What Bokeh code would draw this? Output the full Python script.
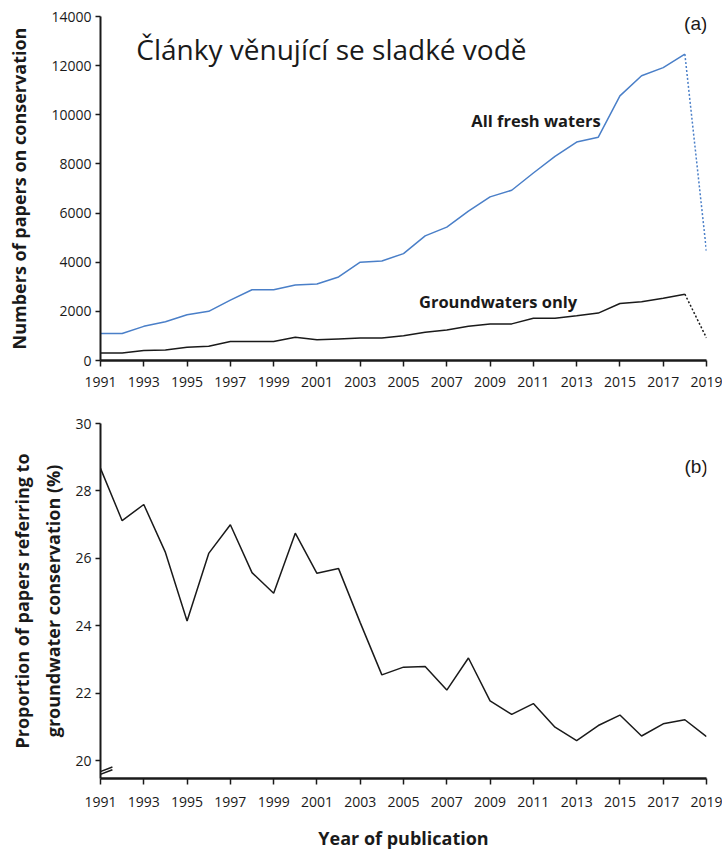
from bokeh.plotting import figure
from bokeh.models import Range1d, FixedTicker, LinearAxis, Label
from bokeh.layouts import column
from bokeh.embed import file_html
from bokeh.resources import INLINE

# ---------------- data ----------------
years = list(range(1991, 2020))
fresh = [1100, 1100, 1390, 1580, 1860, 2000, 2460, 2880, 2880, 3070,
         3110, 3400, 4000, 4050, 4350, 5070, 5430, 6080, 6660, 6930,
         7630, 8310, 8890, 9090, 10770, 11590, 11920, 12470, 4430]
ground = [310, 310, 405, 430, 540, 580, 770, 770, 770, 945,
          840, 880, 920, 920, 1010, 1150, 1240, 1390, 1490, 1490,
          1720, 1720, 1820, 1930, 2320, 2390, 2530, 2700, 920]
proportion = [28.67, 27.12, 27.6, 26.18, 24.15, 26.15, 27.0, 25.58, 24.97, 26.75,
              25.56, 25.7, 24.1, 22.55, 22.78, 22.8, 22.1, 23.05, 21.78, 21.38,
              21.7, 21.0, 20.6, 21.05, 21.36, 20.74, 21.1, 21.22, 20.72]
x_ticks = list(range(1991, 2020, 2))
y_ticks_a = [0, 2000, 4000, 6000, 8000, 10000, 12000, 14000]
y_ticks_b = [20, 22, 24, 26, 28, 30]

title_text = "Články věnující se sladké vodě"
label_fresh = "All fresh waters"
label_ground = "Groundwaters only"

BLUE = "#4a7fc8"
INK = "#1a1a1a"
FONT = "Open Sans"


def style(p):
    p.outline_line_color = None
    p.xgrid.visible = False
    p.ygrid.visible = False
    p.background_fill_color = "white"
    p.border_fill_color = "white"
    for ax in p.xaxis + p.yaxis:
        ax.axis_line_color = INK
        ax.axis_line_width = 2
        ax.major_tick_line_color = INK
        ax.major_tick_line_width = 1.5
        ax.minor_tick_line_color = None
        ax.major_tick_in = 0
        ax.major_label_text_font = FONT
        ax.major_label_text_font_size = "14px"
        ax.major_label_text_color = INK
        ax.axis_label_text_font = FONT
        ax.axis_label_text_font_size = "18px"
        ax.axis_label_text_font_style = "bold"
        ax.axis_label_text_color = INK
    p.xaxis.ticker = FixedTicker(ticks=x_ticks)
    p.xaxis.major_tick_out = 6
    p.xaxis.axis_line_width = 2.5
    p.yaxis.major_tick_out = 5


# ---------------- panel (a) ----------------
p1 = figure(width=722, height=400, x_range=Range1d(1991, 2019), y_range=Range1d(0, 14000),
            output_backend="svg", toolbar_location=None,
            min_border_left=100, min_border_right=16, min_border_top=16, min_border_bottom=40)
style(p1)
p1.yaxis.ticker = FixedTicker(ticks=y_ticks_a)
p1.yaxis.axis_label = "Numbers of papers on conservation"
p1.yaxis.axis_label_standoff = 17
p1.yaxis.major_label_standoff = 4
p1.xaxis.major_label_standoff = 10

p1.line(years[:-1], fresh[:-1], line_color=BLUE, line_width=1.5)
p1.line(years[-2:], fresh[-2:], line_color=BLUE, line_width=1.5, line_dash="2 2")
p1.line(years[:-1], ground[:-1], line_color=INK, line_width=1.5)
p1.line(years[-2:], ground[-2:], line_color=INK, line_width=1.5, line_dash="2 2")

p1.add_layout(Label(x=2001.67, y=12657, text=title_text, text_font=FONT,
                    text_font_size="28px", text_color=INK, text_align="center",
                    text_baseline="alphabetic"))
p1.add_layout(Label(x=2018.5, y=13703, text="(a)", text_font="Liberation Sans",
                    text_font_size="19px", text_color=INK, text_align="center",
                    text_baseline="middle"))
p1.add_layout(Label(x=2011.12, y=9767, text=label_fresh, text_font=FONT,
                    text_font_size="16.5px", text_font_style="bold", text_color=INK,
                    text_align="center", text_baseline="middle"))
p1.add_layout(Label(x=2009.37, y=2401, text=label_ground, text_font=FONT,
                    text_font_size="16.5px", text_font_style="bold", text_color=INK,
                    text_align="center", text_baseline="middle"))

# ---------------- panel (b) ----------------
p2 = figure(width=722, height=452, x_range=Range1d(1991, 2019), y_range=Range1d(19.48, 30),
            output_backend="svg", toolbar_location=None,
            min_border_left=100, min_border_right=16, min_border_top=23, min_border_bottom=74)
style(p2)
p2.yaxis.ticker = FixedTicker(ticks=y_ticks_b)
p2.yaxis.axis_label = "groundwater conservation (%)"
p2.yaxis.axis_label_standoff = 7
p2.yaxis.major_label_standoff = 4
p2.xaxis.axis_label = "Year of publication"
p2.xaxis.major_label_standoff = 12
p2.xaxis.axis_label_standoff = 16

extra = LinearAxis(ticker=FixedTicker(ticks=[]), axis_label="Proportion of papers referring to",
                   axis_line_color=None, major_tick_line_color=None, minor_tick_line_color=None,
                   major_tick_out=0, major_tick_in=0, major_label_standoff=0,
                   major_label_text_font_size="0px", axis_label_standoff=5,
                   axis_label_text_font=FONT, axis_label_text_font_size="18px",
                   axis_label_text_font_style="bold", axis_label_text_color=INK)
p2.add_layout(extra, "left")

p2.line(years, proportion, line_color=INK, line_width=1.5)

# axis break mark
brk_x0 = [1990.77, 1990.77]
brk_x1 = [1991.55, 1991.55]
brk_y0 = [19.63, 19.55]
brk_y1 = [19.82, 19.74]
p2.segment(x0=brk_x0, y0=brk_y0, x1=brk_x1, y1=brk_y1, line_color=INK, line_width=1.5)

p2.add_layout(Label(x=2018.52, y=28.74, text="(b)", text_font="Liberation Sans",
                    text_font_size="19px", text_color=INK, text_align="center",
                    text_baseline="middle"))

layout = column(p1, p2)
open("out.html", "w").write(file_html(layout, INLINE))
